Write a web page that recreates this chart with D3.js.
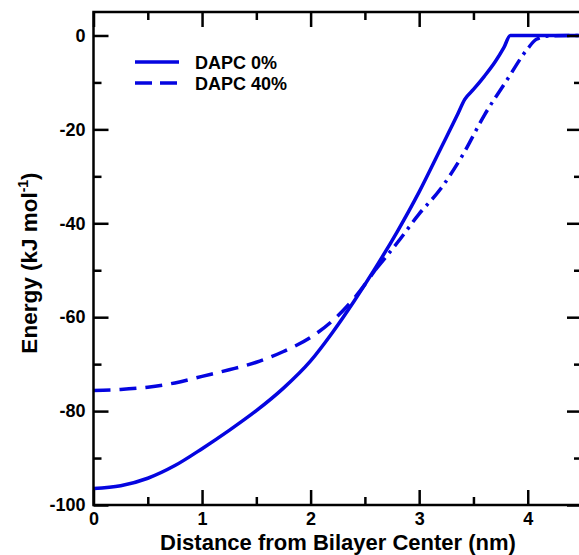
<!DOCTYPE html>
<html>
<head>
<meta charset="utf-8">
<script src="https://cdn.jsdelivr.net/npm/d3@7"></script>
<style>
  html, body { margin: 0; padding: 0; background: #fff; }
  svg { display: block; }
  text { font-family: "Liberation Sans", Arial, Helvetica, sans-serif; font-weight: bold; fill: #000; }
</style>
</head>
<body>
<svg id="chart" width="579" height="555"></svg>
<script>
// ---- data ----
const seriesNames = ["DAPC 0%", "DAPC 40%"];
const xDistance0 = [0, 0.25, 0.5, 0.75, 1.0, 1.25, 1.5, 1.75, 2.0, 2.2, 2.4, 2.6, 2.8, 3.0, 3.2, 3.35, 3.42, 3.5, 3.6, 3.7, 3.78, 3.84, 4.5];
const energy0   = [-96.5, -95.9, -94.3, -91.6, -88.0, -84.1, -79.9, -75.1, -69.3, -63.3, -56.6, -49.4, -41.7, -33.3, -24.0, -17.0, -13.6, -11.5, -8.7, -5.6, -2.6, 0, 0];
const xDistance40 = [0, 0.25, 0.5, 0.75, 1.0, 1.25, 1.5, 1.75, 2.0, 2.2, 2.4, 2.6, 2.8, 3.0, 3.2, 3.4, 3.6, 3.8, 4.0, 4.08, 4.2, 4.5];
const energy40    = [-75.6, -75.4, -74.9, -74.0, -72.6, -71.2, -69.6, -67.3, -64.3, -60.8, -56.0, -49.8, -44.1, -38.0, -32.6, -25.5, -17.0, -9.8, -2.8, -0.8, -0.1, 0];
const xTickValues = [0, 1, 2, 3, 4];
const xMinorTicks = [0.5, 1.5, 2.5, 3.5];
const yTickValues = [-100, -80, -60, -40, -20, 0];
const yMinorTicks = [-90, -70, -50, -30, -10];
const xTitle = "Distance from Bilayer Center (nm)";

// ---- layout ----
const svg = d3.select("#chart");
const L = 93.5, R = 582, T = 12, B = 505;
const x = d3.scaleLinear().domain([0, 4.5]).range([L, R]);
const y = d3.scaleLinear().domain([-100, 5]).range([B, T]);
const blue = "#0505e0";

const s0 = xDistance0.map((d, i) => [d, energy0[i]]);
const s40 = xDistance40.map((d, i) => [d, energy40[i]]);

const line = d3.line().x(d => x(d[0])).y(d => y(d[1])).curve(d3.curveMonotoneX);

const plot = svg.append("g");
plot.append("defs").append("clipPath").attr("id", "clip")
  .append("rect").attr("x", L).attr("y", T).attr("width", R - L).attr("height", B - T);
const lines = plot.append("g").attr("clip-path", "url(#clip)");

// dashed series (lower part dashed, upper part dash-dot as in reference)
const splitX = 2.6;
lines.append("path")
  .attr("d", line(s40.filter(d => d[0] <= splitX)))
  .attr("fill", "none").attr("stroke", blue).attr("stroke-width", 3.5)
  .attr("stroke-dasharray", "17,9");
lines.append("path")
  .attr("d", line(s40.filter(d => d[0] >= splitX)))
  .attr("fill", "none").attr("stroke", blue).attr("stroke-width", 3.5)
  .attr("stroke-dasharray", "15,6,3,6");
// solid series
lines.append("path")
  .attr("d", line(s0))
  .attr("fill", "none").attr("stroke", blue).attr("stroke-width", 3.5)
  .attr("stroke-linejoin", "round");

// ---- axes (ticks inward) ----
const fmt = d => String(d);
const axB = svg.append("g").attr("transform", `translate(0,${B})`)
  .call(d3.axisBottom(x).tickValues(xTickValues).tickSize(-15).tickPadding(7).tickFormat(fmt));
const axBm = svg.append("g").attr("transform", `translate(0,${B})`)
  .call(d3.axisBottom(x).tickValues(xMinorTicks).tickSize(-8).tickFormat(""));
const axT = svg.append("g").attr("transform", `translate(0,${T})`)
  .call(d3.axisTop(x).tickValues(xTickValues).tickSize(-15).tickFormat(""));
const axTm = svg.append("g").attr("transform", `translate(0,${T})`)
  .call(d3.axisTop(x).tickValues(xMinorTicks).tickSize(-8).tickFormat(""));
const axL = svg.append("g").attr("transform", `translate(${L},0)`)
  .call(d3.axisLeft(y).tickValues(yTickValues).tickSize(-15).tickPadding(8).tickFormat(fmt));
const axLm = svg.append("g").attr("transform", `translate(${L},0)`)
  .call(d3.axisLeft(y).tickValues(yMinorTicks).tickSize(-8).tickFormat(""));
const axR = svg.append("g").attr("transform", `translate(${R},0)`)
  .call(d3.axisRight(y).tickValues(yTickValues).tickSize(-15).tickFormat(""));
const axRm = svg.append("g").attr("transform", `translate(${R},0)`)
  .call(d3.axisRight(y).tickValues(yMinorTicks).tickSize(-8).tickFormat(""));

[axB, axBm, axT, axTm, axL, axLm, axR, axRm].forEach(a => {
  a.select(".domain").remove();
  a.selectAll(".tick line").attr("stroke", "#000").attr("stroke-width", 2.5);
  a.selectAll(".tick text").attr("font-size", 18).attr("font-weight", "bold")
    .attr("font-family", "Liberation Sans, Arial, sans-serif").attr("fill", "#000");
});

// frame
svg.append("rect").attr("x", L).attr("y", T).attr("width", R - L).attr("height", B - T)
  .attr("fill", "none").attr("stroke", "#000").attr("stroke-width", 2.5);

// ---- titles ----
svg.append("text").attr("x", 338).attr("y", 550)
  .attr("text-anchor", "middle").attr("font-size", 22).text(xTitle);

const yt = svg.append("text")
  .attr("transform", `translate(37,${263}) rotate(-90)`)
  .attr("text-anchor", "middle").attr("font-size", 22.5);
yt.append("tspan").text("Energy (kJ mol");
yt.append("tspan").attr("font-size", 14).attr("dy", -9).text("-1");
yt.append("tspan").attr("dy", 9).text(")");

// ---- legend ----
const lg = svg.append("g");
const legendStyles = ["none", "17,8"];
seriesNames.forEach((name, i) => {
  const ly = 62 + i * 21;
  lg.append("line").attr("x1", 135).attr("x2", 179).attr("y1", ly).attr("y2", ly)
    .attr("stroke", blue).attr("stroke-width", 3.5)
    .attr("stroke-dasharray", legendStyles[i]);
  lg.append("text").attr("x", 195).attr("y", ly + 6.5).attr("font-size", 18).text(name);
});
</script>
</body>
</html>
